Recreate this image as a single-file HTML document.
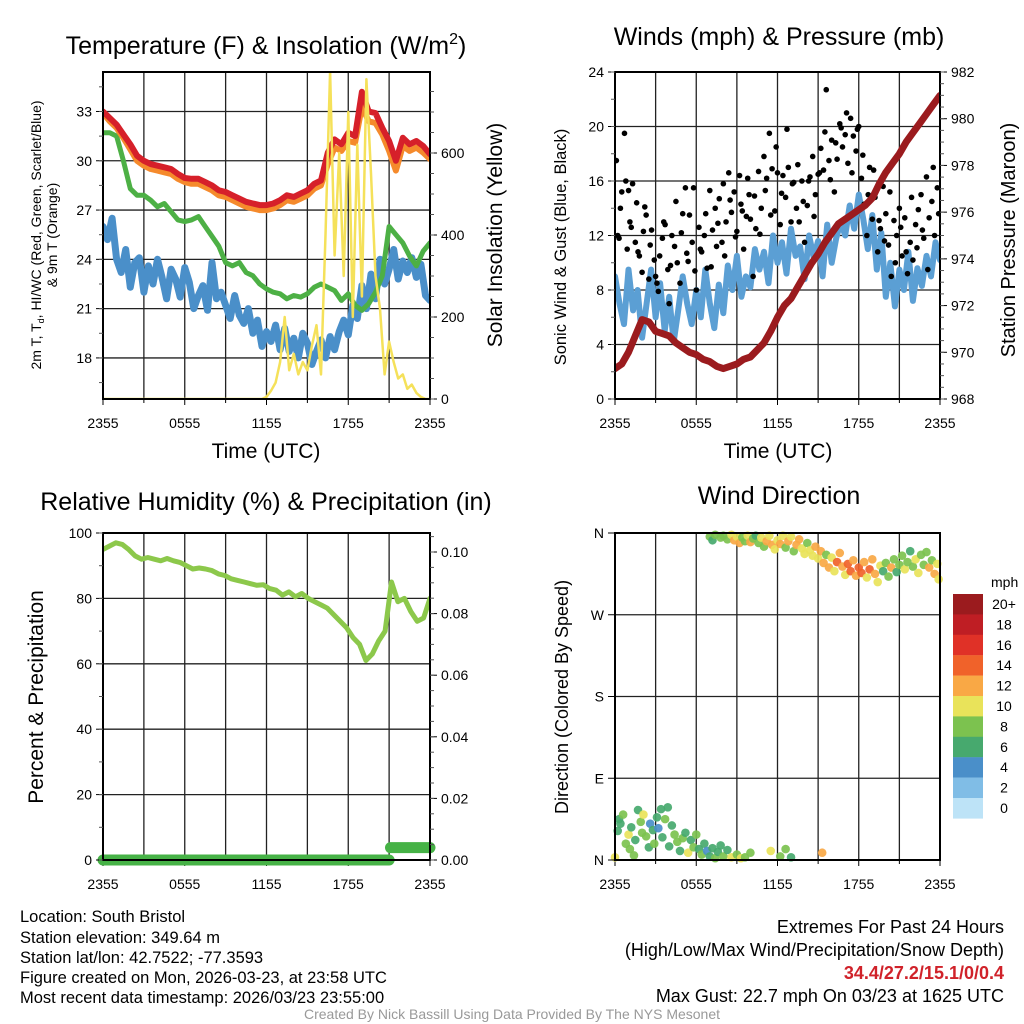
<!DOCTYPE html>
<html><head><meta charset="utf-8">
<style>
html,body{margin:0;padding:0;background:#fff;}
svg{display:block;font-family:"Liberation Sans",Arial,sans-serif;}
</style></head>
<body>
<svg id="fig" width="1024" height="1024" viewBox="0 0 1024 1024" xmlns="http://www.w3.org/2000/svg">
<defs>
<clipPath id="c1"><rect x="103" y="72" width="327" height="327"/></clipPath>
<clipPath id="c2"><rect x="615" y="72" width="325" height="327"/></clipPath>
<clipPath id="c3"><rect x="103" y="533" width="327" height="332"/></clipPath>
<clipPath id="c4"><rect x="608" y="526" width="339" height="340"/></clipPath>
</defs>
<rect width="1024" height="1024" fill="#fff"/>
<!-- titles -->
<text x="266" y="54" font-size="25" text-anchor="middle">Temperature (F) &amp; Insolation (W/m<tspan font-size="16" dy="-10">2</tspan><tspan dy="10">)</tspan></text>
<text x="779" y="45" font-size="25" text-anchor="middle">Winds (mph) &amp; Pressure (mb)</text>
<text x="266" y="510" font-size="25" text-anchor="middle">Relative Humidity (%) &amp; Precipitation (in)</text>
<text x="779" y="504" font-size="25" text-anchor="middle">Wind Direction</text>
<!-- axis titles -->
<text x="266" y="458" font-size="21" text-anchor="middle">Time (UTC)</text>
<text x="778" y="458" font-size="21" text-anchor="middle">Time (UTC)</text>
<g font-size="14" text-anchor="middle">
<text transform="translate(41,235) rotate(-90)">2m T, T<tspan font-size="9" dy="3">d</tspan><tspan dy="-3">, HI/WC (Red, Green, Scarlet/Blue)</tspan></text>
<text transform="translate(57,235) rotate(-90)">&amp; 9m T (Orange)</text>
</g>
<text transform="translate(502,235) rotate(-90)" font-size="21" text-anchor="middle">Solar Insolation (Yellow)</text>
<text transform="translate(566,247) rotate(-90)" font-size="16.5" text-anchor="middle">Sonic Wind &amp; Gust (Blue, Black)</text>
<text transform="translate(1015,240) rotate(-90)" font-size="20" text-anchor="middle">Station Pressure (Maroon)</text>
<text transform="translate(43,697) rotate(-90)" font-size="21" text-anchor="middle">Percent &amp; Precipitation</text>
<text transform="translate(568,697) rotate(-90)" font-size="18" text-anchor="middle">Direction (Colored By Speed)</text>
<!-- footer -->
<g font-size="16.5">
<text x="20" y="922">Location: South Bristol</text>
<text x="20" y="943">Station elevation: 349.64 m</text>
<text x="20" y="963">Station lat/lon: 42.7522; -77.3593</text>
<text x="20" y="983">Figure created on Mon, 2026-03-23, at 23:58 UTC</text>
<text x="20" y="1003">Most recent data timestamp: 2026/03/23 23:55:00</text>
</g>
<g font-size="18" text-anchor="end">
<text x="1004" y="933">Extremes For Past 24 Hours</text>
<text x="1004" y="956">(High/Low/Max Wind/Precipitation/Snow Depth)</text>
<text x="1004" y="979" fill="#d0222a" font-weight="bold">34.4/27.2/15.1/0/0.4</text>
<text x="1004" y="1002">Max Gust: 22.7 mph On 03/23 at 1625 UTC</text>
</g>
<text x="512" y="1019" font-size="14" fill="#999" text-anchor="middle">Created By Nick Bassill Using Data Provided By The NYS Mesonet</text>
<text x="991" y="587" font-size="14">mph</text>
<g id="layer"></g>
</svg>
<script>
// ---- data ----
const xTickLabels = ["2355","0555","1155","1755","2355"];
const tempRed = [33.0,32.6,32.2,31.6,31.0,30.3,30.0,29.8,29.7,29.6,29.5,29.2,28.95,28.9,28.9,28.7,28.5,28.2,28.1,27.9,27.7,27.5,27.4,27.3,27.3,27.4,27.6,27.9,27.8,28.0,28.2,28.6,28.8,30.5,31.3,31.0,31.7,31.5,34.2,33.0,32.9,32.0,31.2,30.0,31.4,31.0,31.2,30.9,30.4];
const temp9m = [32.9,32.4,32.0,31.4,30.7,30.0,29.7,29.5,29.4,29.3,29.2,28.9,28.7,28.6,28.6,28.4,28.2,27.9,27.8,27.6,27.4,27.2,27.1,27.0,27.0,27.1,27.3,27.6,27.5,27.7,27.9,28.3,28.5,29.8,30.8,30.6,31.2,31.1,33.3,32.4,32.3,31.6,30.6,29.4,30.9,30.6,30.8,30.5,30.1];
const heatIndex = [31.7,31.7,31.5,30.0,28.3,27.9,27.9,27.6,27.2,27.4,26.9,26.4,26.3,26.4,26.6,26.0,25.4,24.8,23.8,23.6,23.8,23.2,23.0,22.5,22.2,22.0,21.9,21.6,21.8,21.7,21.9,22.3,22.5,22.3,22.1,21.5,21.9,21.2,20.9,21.3,22.0,23.0,26.0,25.5,25.0,24.2,23.6,24.5,25.0];
const dewpoint = [26.0,25.2,26.5,24.0,23.2,24.6,22.3,23.8,24.1,22.0,23.6,22.5,24.0,22.9,21.6,23.4,22.8,21.7,23.5,22.6,21.0,21.8,22.4,20.9,23.8,21.6,22.0,21.2,20.4,21.8,20.6,20.1,21.0,19.5,20.3,18.7,19.6,19.0,20.0,18.5,19.8,18.4,19.2,18.0,19.5,18.9,17.6,18.4,19.1,18.0,19.3,18.5,19.6,20.3,19.4,21.2,20.4,22.4,21.0,23.1,21.6,24.0,22.5,23.4,24.6,22.8,23.9,23.2,24.1,22.9,23.7,21.8,21.5];
const insolation = [0,0,0,0,0,0,0,0,0,0,0,0,0,0,0,0,0,0,0,0,0,0,0,0,0,0,0,0,0,0,0,0,0,0,0,0,5,20,40,90,200,70,110,60,90,70,130,180,60,400,800,350,600,300,700,200,620,250,780,550,300,220,60,140,90,50,60,25,35,15,5,0,0];
const tempTicks = [18,21,24,27,30,33];
const insolTicks = [0,200,400,600];
const windSpeed = [9,7,5.5,9.5,6.5,8,4.5,7,9.5,6,8.5,5,7.5,4.2,6.5,9,7,5.5,8,6,9.5,7,5.2,8.4,6.3,9.8,8,10.5,7.5,9,8.2,11,9.5,10.8,8.5,12,10,11.5,9.2,12.5,10.5,11.2,8.8,12,10.4,11.6,9,12.8,10,11.8,13,12,14.2,12.5,15,13.2,11,13.5,9.5,12.2,7.5,10,6.8,9.5,8,10.8,7.2,9.6,8.3,10.5,9,11.5,10.2];
const gustHour = [0.1,0.2,0.4,0.5,0.7,0.9,1.0,1.1,1.3,1.5,1.6,1.8,2.0,2.1,2.3,2.5,2.7,2.9,3.0,3.2,3.3,3.5,3.7,3.9,4.0,4.2,4.4,4.6,4.8,5.0,5.2,5.4,5.5,5.7,5.9,6.0,6.2,6.4,6.6,6.8,7.0,7.2,7.4,7.5,7.7,7.9,8.0,8.2,8.4,8.6,8.8,9.0,9.2,9.3,9.5,9.7,9.9,10.0,10.2,10.4,10.6,10.8,11.0,11.2,11.4,11.6,11.8,12.0,12.2,12.4,12.6,12.8,13.0,13.2,13.4,13.6,13.8,14.0,14.2,14.4,14.6,14.8,15.0,15.2,15.4,15.6,15.8,16.0,16.2,16.4,16.6,16.8,17.0,17.2,17.4,17.6,17.8,18.0,18.2,18.4,18.6,18.8,19.0,19.2,19.4,19.6,19.8,20.0,20.2,20.4,20.6,20.8,21.0,21.2,21.4,21.6,21.8,22.0,22.2,22.4,22.6,22.8,23.0,23.2,23.4,23.6,23.8,
0.3,0.8,1.2,1.7,2.2,2.6,3.1,3.6,4.1,4.5,4.9,5.3,5.8,6.3,6.7,7.1,7.6,8.1,8.5,8.9,9.4,9.8,10.3,10.7,11.1,11.5,11.9,12.3,12.7,13.1,13.5,13.9,14.3,14.7,15.1,15.5,15.9,16.3,16.7,17.1,17.5,17.9,18.3,18.7,19.1,19.5,19.9,20.3,20.7,21.1,21.5,21.9,22.3,22.7,23.1,23.5,23.9];
const gustValue = [17.5,12.0,14.0,15.2,19.5,11.0,15.3,13.0,15.8,11.5,14.4,10.5,9.3,12.3,13.5,8.8,12.4,10.2,9.0,7.9,10.5,11.8,12.8,9.5,7.0,12.0,11.2,10.0,8.5,13.6,15.5,10.1,13.5,11.5,9.4,8.0,12.6,10.8,12.0,9.6,15.3,12.4,14.0,11.2,14.7,11.5,15.8,13.0,16.6,13.7,15.2,12.3,16.4,14.3,11.0,13.4,15.0,13.2,9.0,12.5,16.7,14.0,17.8,16.2,19.5,16.9,13.8,16.6,12.8,16.4,14.8,17.0,13.0,15.9,14.0,13.0,16.0,11.5,14.2,16.3,17.8,15.0,16.5,18.4,16.8,22.7,17.5,19.0,15.2,17.6,20.2,18.5,19.4,17.3,20.6,19.3,18.2,20.0,16.2,14.3,12.0,17.0,13.2,14.8,10.8,12.5,15.6,13.6,11.3,9.0,13.1,12.0,14.0,10.5,13.3,9.2,11.5,10.2,12.8,13.9,15.0,11.8,16.3,13.3,14.5,12.0,15.5,
11.8,16.0,12.6,10.8,14.1,11.3,8.5,13.0,9.8,14.5,12.2,10.7,15.5,11.0,13.6,9.7,12.9,10.5,14.6,11.9,13.8,16.2,14.9,12.1,15.3,13.5,18.5,15.1,19.8,15.8,17.2,14.5,16.0,13.4,16.6,19.6,16.1,18.8,19.9,21.0,16.6,19.8,17.9,15.0,16.8,13.1,11.6,15.2,10.0,12.6,10.8,14.8,11.1,12.4,9.5,17.0,13.6];
const pressure = [969.3,969.5,970.0,970.7,971.4,971.3,970.9,970.8,970.7,970.4,970.2,970.0,969.9,969.7,969.6,969.4,969.3,969.4,969.5,969.7,969.8,970.1,970.4,970.9,971.5,972.0,972.3,972.8,973.3,973.8,974.2,974.7,975.1,975.5,975.7,975.9,976.1,976.3,976.6,977.2,977.7,978.1,978.5,979.0,979.4,979.8,980.2,980.6,981.0];
const windTicks = [0,4,8,12,16,20,24];
const pressTicks = [968,970,972,974,976,978,980,982];
const rh = [95,96,97,96.5,95,93,92,92.5,92,91.5,92.2,91.5,91,90,89,89.3,89,88.5,87.5,87,86,85.5,85,84.5,84,84.2,83,82.5,81,82,80.5,81.5,80,79,78,77,75,73,71,68,66,61,63,67,70,85,79,80,76,73,74,80];
const precipHour = [0,1,2,3,4,5,6,7,8,9,10,11,12,13,14,15,16,17,18,19,20,21,21.1,22,23,24];
const precipValue = [0,0,0,0,0,0,0,0,0,0,0,0,0,0,0,0,0,0,0,0,0,0,0.004,0.004,0.004,0.004];
const rhTicks = [0,20,40,60,80,100];
const precipTicks = ["0.00","0.02","0.04","0.06","0.08","0.10"];
const dirHour = [7.0,7.2,7.4,7.8,8.0,8.3,8.6,8.8,9.0,9.2,9.4,9.6,9.8,10.0,10.2,10.4,10.6,10.8,11.0,11.2,11.4,11.6,11.8,12.0,12.2,12.4,12.6,12.8,13.0,13.2,13.4,13.6,13.8,14.0,14.2,14.4,14.6,14.8,15.0,15.2,15.4,15.6,15.8,16.0,16.2,16.4,16.6,16.8,17.0,17.2,17.4,17.6,17.8,18.0,18.2,18.4,18.6,18.8,19.0,19.2,19.4,19.6,19.8,20.0,20.2,20.4,20.6,20.8,21.0,21.2,21.4,21.6,21.8,22.0,22.2,22.4,22.6,22.8,23.0,23.2,23.4,23.6,23.8,23.9,
0.0,0.2,0.3,0.4,0.6,0.8,1.0,1.1,1.2,1.4,1.5,1.7,1.9,2.0,2.1,2.3,2.5,2.6,2.8,2.9,3.1,3.2,3.4,3.5,3.7,3.9,4.0,4.2,4.4,4.6,4.8,5.0,5.2,5.4,5.6,5.8,6.0,6.2,6.4,6.6,6.8,7.0,7.2,7.4,7.6,7.8,8.0,8.3,8.6,9.0,9.3,9.6,10.0,11.5,12.2,12.6,13.0,15.3];
const dirDeg = [356,352,358,355,357,353,358,352,356,349,355,351,357,350,354,357,349,355,345,351,357,347,342,352,348,357,344,351,356,340,347,353,343,337,349,341,335,345,332,340,327,336,322,333,318,328,338,323,314,326,318,330,313,322,316,328,311,320,331,315,306,324,318,327,312,322,331,317,325,335,320,328,340,323,331,316,336,325,339,322,330,315,326,309,
3,32,45,40,50,18,28,12,36,5,22,55,42,30,50,26,14,40,33,18,47,35,56,25,45,58,15,38,28,20,10,24,30,8,22,14,28,12,6,18,10,4,13,2,9,16,4,11,3,6,2,3,8,10,4,12,3,8];
const dirSpeed = [8,6,8,8,9,8,10,12,10,12,9,8,10,13,8,7,8,10,9,12,10,13,10,11,12,10,9,13,11,8,12,13,10,10,8,10,10,12,10,12,12,9,12,10,10,14,12,13,10,14,14,12,12,15,14,13,10,15,12,12,10,10,6,8,8,12,8,6,8,8,10,8,6,8,10,10,8,8,9,12,8,12,10,10,
10,6,6,6,8,8,10,8,6,8,6,6,8,8,10,8,6,4,6,8,6,4,6,6,8,6,6,6,8,8,6,8,6,10,6,8,8,6,8,6,4,6,6,8,6,6,8,6,10,8,10,8,8,10,8,8,6,12];
const dirTicks = ["N","E","S","W","N"];
const cbLabels = ["20+","18","16","14","12","10","8","6","4","2","0"];
const cbColors = ["#9b1b1e","#bf1e24","#e03127","#f0622a","#f9a845","#e9e35a","#7cc24f","#47a96e","#4a8fc9","#80bde6","#bde3f7"];

// ---- helpers ----
const NS = "http://www.w3.org/2000/svg";
const layer = document.getElementById("layer");
function mk(tag, attrs, parent){
  const e = document.createElementNS(NS, tag);
  for (const k in attrs) e.setAttribute(k, attrs[k]);
  (parent||layer).appendChild(e);
  return e;
}
const P = [
  {x0:103,x1:430,y0:72,y1:399,clip:"c1"},
  {x0:615,x1:940,y0:72,y1:399,clip:"c2"},
  {x0:103,x1:430,y0:533,y1:860,clip:"c3"},
  {x0:615,x1:940,y0:533,y1:860,clip:"c4"}
];
const xAt = (p,frac) => p.x0 + frac*(p.x1-p.x0);
const xHour = (p,h) => xAt(p,h/24);
const yT = v => 399-(v-15.5)*16.43;
const yI = v => 399-v*0.41;
const yW = v => 399-v*13.625;
const yP = v => 399-(v-968)*23.357;
const yR = v => 860-v*3.27;
const yPr = v => 860-v*3080;
const yD = d => 860-d*327/360;

function frame(p, idx, hLines){
  const g = mk("g",{});
  
  
  for (let i=1;i<8;i++){
    const x = xAt(p,i/8);
    mk("line",{x1:x,x2:x,y1:p.y0,y2:p.y1,stroke:"#222","stroke-width":1.3},g);
  }
  hLines.forEach(y=>mk("line",{x1:p.x0,x2:p.x1,y1:y,y2:y,stroke:"#222","stroke-width":1.3},g));
  const tg = mk("g",{});
  
  
  for (let i=0;i<=8;i++){
    const x = xAt(p,i/8);
    mk("line",{x1:x,x2:x,y1:p.y1,y2:p.y1+(i%2?4:6),stroke:"#000","stroke-width":1},tg);
  }
  xTickLabels.forEach((t,i)=>{
    const e = mk("text",{x:xAt(p,i/4),y:p.y1+29,"font-size":14,"text-anchor":"middle"},tg);
    e.textContent = t;
  });
}
function border(p, idx){
  const r = mk("rect",{x:p.x0,y:p.y0,width:p.x1-p.x0,height:p.y1-p.y0,fill:"none",stroke:"#000","stroke-width":2});
  
  
}
function yAxis(p, side, ticks, fy, labels, minorStep, name){
  const g = mk("g",{});
  
  
  const x = side==="L"?p.x0:p.x1, d = side==="L"?-1:1;
  ticks.forEach((v,i)=>{
    const y = fy(v);
    mk("line",{x1:x,x2:x+d*7,y1:y,y2:y,stroke:"#000","stroke-width":1},g);
    const t = mk("text",{x:x+d*11,y:y+5,"font-size":14,"text-anchor":side==="L"?"end":"start"},g);
    t.textContent = labels?labels[i]:String(v);
  });
  if (minorStep){
    const lo = ticks[0], hi = ticks[ticks.length-1]+minorStep*4;
    for (let v=lo-minorStep*4; v<=hi; v+=minorStep){
      const y = fy(v);
      if (y<p.y0||y>p.y1) continue;
      mk("line",{x1:x,x2:x+d*4,y1:y,y2:y,stroke:"#555","stroke-width":1},g);
    }
  }
}
function line(p, vals, fy, color, w, name, opacity){
  const pts = vals.map((v,i)=>xAt(p,i/(vals.length-1)).toFixed(1)+","+fy(v).toFixed(1)).join(" ");
  const e = mk("polyline",{points:pts,fill:"none",stroke:color,"stroke-width":w,"stroke-linejoin":"round","stroke-linecap":"round","clip-path":"url(#"+p.clip+")",opacity:opacity||1});
  
  
  return e;
}
function colorFor(s){
  const idx = Math.min(10, Math.max(0, 10-Math.floor(s/2)));
  return cbColors[idx];
}

// ---- panel 1 ----
frame(P[0],1,tempTicks.map(yT));
line(P[0],dewpoint,yT,"#4a8fc9",7,"dewpoint-line");
line(P[0],heatIndex,yT,"#4db045",5,"heat-index-line");
line(P[0],temp9m,yT,"#f58a2c",6,"temp-9m-line");
line(P[0],tempRed,yT,"#d6202a",6,"temp-2m-line");
line(P[0],insolation,yI,"#f5e15a",2.5,"insolation-line");
border(P[0],1);
yAxis(P[0],"L",tempTicks,yT,null,1.5,"temp-y-axis");
yAxis(P[0],"R",insolTicks,yI,null,50,"insolation-y-axis");

// ---- panel 2 ----
frame(P[1],2,[4,8,12,16,20].map(yW));
line(P[1],windSpeed,yW,"#5b9fd4",6,"wind-speed-line");
const gg = mk("g",{"clip-path":"url(#c2)"});


const ng = Math.min(gustHour.length, gustValue.length);
for (let i=0;i<ng;i++){
  const c = mk("circle",{cx:xHour(P[1],gustHour[i]),cy:yW(gustValue[i]),r:2.8,fill:"#000"},gg);
  
  
}
line(P[1],pressure,yP,"#9b1b1e",7,"pressure-line");
border(P[1],2);
yAxis(P[1],"L",windTicks,yW,null,2,"wind-y-axis");
yAxis(P[1],"R",pressTicks,yP,null,0.5,"pressure-y-axis");

// ---- panel 3 ----
frame(P[2],3,[20,40,60,80].map(yR));
line(P[2],rh,yR,"#8cc84b",5,"rh-line");
{
  let start = 0;
  for (let i=1;i<=precipHour.length;i++){
    if (i===precipHour.length || precipValue[i]!==precipValue[start]){
      const x1 = xHour(P[2],precipHour[start]), x2 = xHour(P[2],precipHour[i-1]);
      const y = yPr(precipValue[start]);
      const e = mk("line",{x1:x1,x2:x2,y1:y,y2:y,stroke:"#46b246","stroke-width":11,"stroke-linecap":"round"});
      
      
      start = i;
    }
  }
}
border(P[2],3);
yAxis(P[2],"L",rhTicks,yR,null,10,"rh-y-axis");
yAxis(P[2],"R",precipTicks.map(Number),yPr,precipTicks,0.005,"precip-y-axis");

// ---- panel 4 ----
frame(P[3],4,[90,180,270].map(yD));
const dg = mk("g",{"clip-path":"url(#c4)"});


const nd = Math.min(dirHour.length, dirDeg.length, dirSpeed.length);
for (let i=0;i<nd;i++){
  const c = mk("circle",{cx:xHour(P[3],dirHour[i]),cy:yD(dirDeg[i]),r:4.3,fill:colorFor(dirSpeed[i]),opacity:0.92},dg);
  
  
}
border(P[3],4);
yAxis(P[3],"L",[0,90,180,270,360],yD,dirTicks,null,"direction-y-axis");
const cb = mk("g",{});


cbColors.forEach((c,i)=>{
  const y = 594 + i*20.4;
  const r = mk("rect",{x:953,y:y,width:30,height:20.6,fill:c},cb);
  
  
  const t = mk("text",{x:1004,y:y+15,"font-size":14,"text-anchor":"middle"},cb);
  t.textContent = cbLabels[i];
});
</script>
</body></html>
